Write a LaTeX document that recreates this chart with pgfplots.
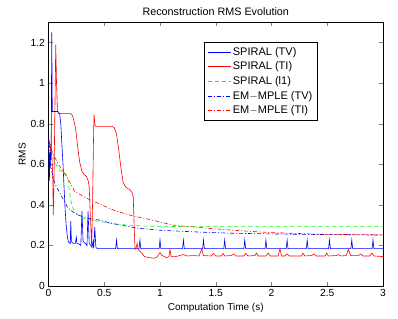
\documentclass[border=0pt]{standalone}
\usepackage{pgfplots}
\pgfplotsset{compat=1.18}
\usepackage{fontspec}
\setmainfont{Liberation Sans}
\begin{document}
\begin{tikzpicture}
\useasboundingbox (0,0) rectangle (398pt,318pt);
\begin{axis}[
  at={(48.5pt,32pt)}, anchor=south west,
  scale only axis, width=334.5pt, height=263.7pt,
  xmin=0, xmax=3, ymin=0, ymax=1.3,
  xtick={0,0.5,1,1.5,2,2.5,3},
  ytick={0,0.2,0.4,0.6,0.8,1,1.2},
  tick align=inside, major tick length=4pt,
  /pgf/number format/assume math mode=true,
  tick label style={font=\fontsize{10.3}{12}\selectfont},
  label style={font=\fontsize{10}{12}\selectfont},
  title style={font=\fontsize{10.8}{13}\selectfont, at={(0.5,1)}, anchor=south, yshift=-2.5pt},
  title={Reconstruction RMS Evolution},
  xlabel={Computation Time (s)},
  ylabel={RMS},
  xlabel style={yshift=0.5pt},
  ylabel style={yshift=-2pt},
  axis line style={line width=0.5pt},
  legend style={at={(0.465,0.925)}, anchor=north west, draw=black, line width=0.5pt,
    font=\fontsize{11}{13}\selectfont, row sep=1.2pt, inner xsep=3pt, inner ysep=3pt},
  legend cell align=left,
  legend image code/.code={\draw[#1] (0pt,0pt) -- (23pt,0pt);},
  every axis plot/.append style={line width=0.6pt},
]
\addplot[blue, solid] coordinates {
(0,0.72)(0.004,0.62)(0.008,0.52)(0.012,0.66)(0.016,0.58)(0.020,0.70)(0.024,0.62)
(0.029,1.25)(0.034,0.86)(0.085,0.86)(0.10,0.85)(0.11,0.80)(0.12,0.70)(0.13,0.60)
(0.14,0.48)(0.15,0.37)(0.16,0.29)(0.17,0.24)(0.18,0.215)(0.195,0.21)(0.20,0.32)
(0.205,0.22)(0.22,0.21)(0.24,0.21)(0.25,0.24)(0.255,0.21)(0.28,0.205)(0.29,0.20)
(0.30,0.37)(0.31,0.22)(0.33,0.21)(0.345,0.20)(0.355,0.37)(0.365,0.21)(0.38,0.20)
(0.39,0.19)(0.40,0.22)(0.405,0.185)(0.415,0.29)(0.425,0.19)(0.44,0.184)
(0.602,0.184)(0.61,0.227)(0.618,0.184)
(0.812,0.184)(0.82,0.227)(0.828,0.184)
(0.992,0.184)(1.0,0.227)(1.008,0.184)
(1.202,0.184)(1.21,0.227)(1.218,0.184)
(1.382,0.184)(1.39,0.227)(1.398,0.184)
(1.572,0.184)(1.58,0.227)(1.588,0.184)
(1.752,0.184)(1.76,0.227)(1.768,0.184)
(1.942,0.184)(1.95,0.227)(1.958,0.184)
(2.132,0.184)(2.14,0.227)(2.148,0.184)
(2.312,0.184)(2.32,0.227)(2.328,0.184)
(2.512,0.184)(2.52,0.227)(2.528,0.184)
(2.712,0.184)(2.72,0.227)(2.728,0.184)
(2.902,0.184)(2.91,0.227)(2.918,0.184)
(3,0.184)};
\addlegendentry{SPIRAL (TV)}
\addplot[red, solid] coordinates {
(0,0.72)(0.01,0.70)(0.02,0.67)(0.03,0.64)(0.038,0.55)(0.043,0.35)(0.05,0.55)
(0.058,0.9)(0.065,1.19)(0.072,1.0)(0.08,0.87)(0.088,0.85)(0.2,0.85)(0.215,0.84)
(0.23,0.81)(0.245,0.77)(0.255,0.72)(0.265,0.67)(0.28,0.61)(0.30,0.565)(0.32,0.55)
(0.34,0.54)(0.355,0.52)(0.365,0.49)(0.375,0.35)(0.387,0.195)(0.395,0.40)(0.403,0.70)
(0.408,0.845)(0.418,0.79)(0.426,0.787)(0.57,0.787)(0.59,0.78)(0.61,0.75)(0.63,0.67)
(0.65,0.58)(0.67,0.51)(0.69,0.49)(0.71,0.48)(0.73,0.475)(0.75,0.46)(0.76,0.44)
(0.768,0.30)(0.776,0.181)(0.785,0.185)(0.795,0.21)(0.805,0.18)(0.82,0.17)(0.84,0.16)
(0.86,0.145)(0.9,0.14)(0.94,0.137)(0.97,0.14)(1.0,0.165)(1.02,0.15)(1.06,0.14)
(1.08,0.145)(1.09,0.18)(1.10,0.145)(1.14,0.145)(1.21,0.155)(1.24,0.148)(1.3,0.15)
(1.35,0.148)(1.374,0.183)(1.39,0.15)(1.46,0.148)(1.478,0.16)(1.50,0.148)(1.55,0.148)
(1.565,0.16)(1.58,0.148)(1.64,0.15)(1.66,0.158)(1.68,0.148)(1.75,0.148)(1.77,0.16)
(1.79,0.148)(1.85,0.15)(1.867,0.162)(1.88,0.148)(1.95,0.148)(1.97,0.162)(1.99,0.148)
(2.06,0.148)(2.076,0.185)(2.09,0.148)(2.12,0.148)(2.14,0.158)(2.16,0.148)(2.27,0.148)
(2.28,0.162)(2.30,0.148)(2.36,0.15)(2.38,0.158)(2.40,0.148)(2.48,0.148)(2.495,0.162)
(2.51,0.148)(2.58,0.15)(2.60,0.155)(2.62,0.148)(2.67,0.15)(2.69,0.18)(2.71,0.15)
(2.78,0.15)(2.80,0.158)(2.82,0.148)(2.88,0.148)(2.9,0.162)(2.92,0.148)(3,0.145)};
\addlegendentry{SPIRAL (TI)}
\addplot[green, dash pattern=on 4pt off 3pt] coordinates {
(0,0.70)(0.02,0.69)(0.04,0.64)(0.06,0.61)(0.08,0.585)(0.1,0.57)(0.13,0.56)(0.16,0.55)
(0.175,0.52)(0.19,0.46)(0.205,0.41)(0.22,0.38)(0.24,0.365)(0.265,0.35)(0.3,0.335)
(0.35,0.328)(0.44,0.32)(0.55,0.31)(0.65,0.303)(0.86,0.295)(1.2,0.293)(3,0.293)};
\addlegendentry{SPIRAL (l1)}
\addplot[blue, dash pattern=on 4pt off 2pt on 1pt off 2pt] coordinates {
(0.005,0.70)(0.02,0.60)(0.04,0.53)(0.07,0.49)(0.1,0.46)(0.14,0.42)(0.175,0.384)
(0.22,0.365)(0.265,0.35)(0.35,0.335)(0.444,0.326)(0.6,0.305)(0.8,0.285)(1.0,0.275)
(1.3,0.267)(1.65,0.26)(2.2,0.255)(3,0.251)};
\addlegendentry{EM$-$MPLE (TV)}
\addplot[red, dash pattern=on 4pt off 2pt on 1pt off 2pt] coordinates {
(0.005,0.72)(0.02,0.68)(0.043,0.647)(0.1,0.59)(0.163,0.54)(0.235,0.466)(0.34,0.433)
(0.444,0.408)(0.6,0.37)(0.76,0.345)(0.89,0.33)(1.12,0.30)(1.42,0.285)(1.65,0.275)
(2.0,0.263)(2.46,0.255)(3,0.252)};
\addlegendentry{EM$-$MPLE (TI)}
\end{axis}
\end{tikzpicture}
\end{document}
